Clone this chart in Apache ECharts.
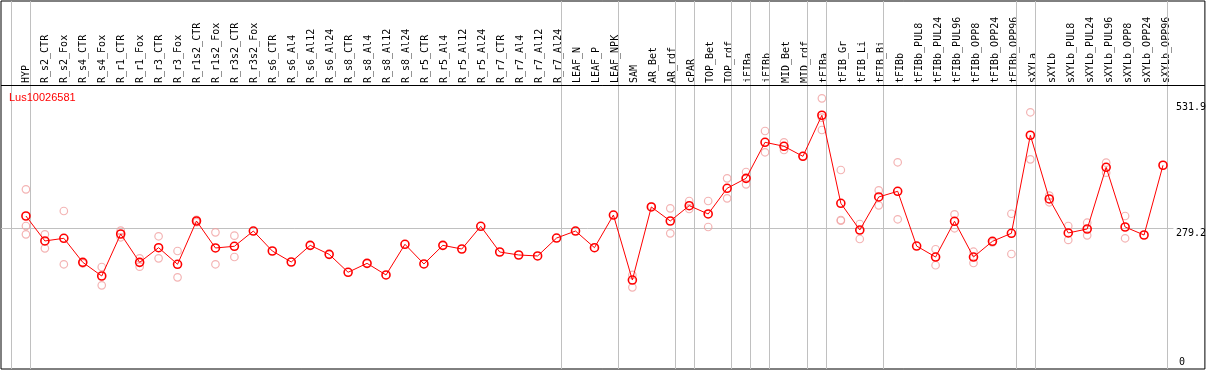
<!DOCTYPE html>
<html><head><meta charset="utf-8">
<script src="https://cdn.jsdelivr.net/npm/echarts@6/dist/echarts.min.js"></script>
<style>html,body{margin:0;padding:0;background:#fff}#c{width:1209px;height:370px}</style>
</head><body><div id="c"></div>
<script>
const chartTitle = 'Lus10026581';
const categories = ['HYP','R_s2_CTR','R_s2_Fox','R_s4_CTR','R_s4_Fox','R_r1_CTR','R_r1_Fox','R_r3_CTR','R_r3_Fox','R_r1s2_CTR','R_r1s2_Fox','R_r3s2_CTR','R_r3s2_Fox','R_s6_CTR','R_s6_Al4','R_s6_Al12','R_s6_Al24','R_s8_CTR','R_s8_Al4','R_s8_Al12','R_s8_Al24','R_r5_CTR','R_r5_Al4','R_r5_Al12','R_r5_Al24','R_r7_CTR','R_r7_Al4','R_r7_Al12','R_r7_Al24','LEAF_N','LEAF_P','LEAF_NPK','SAM','AR_Bet','AR_rdf','cPAR','TOP_Bet','TOP_rdf','iFIBa','iFIBb','MID_Bet','MID_rdf','tFIBa','tFIB_Gr','tFIB_Li','tFIB_Bi','tFIBb','tFIBb_PUL8','tFIBb_PUL24','tFIBb_PUL96','tFIBb_OPP8','tFIBb_OPP24','tFIBb_OPP96','sXYLa','sXYLb','sXYLb_PUL8','sXYLb_PUL24','sXYLb_PUL96','sXYLb_OPP8','sXYLb_OPP24','sXYLb_OPP96'];
const means = [304.0,253.8,259.2,210.8,183.3,267.8,210.8,240.3,206.9,294.0,239.7,243.1,273.8,233.6,211.5,
  245.0,226.9,190.8,208.8,185.4,247.1,207.5,245.0,237.6,283.3,231.6,225.6,223.6,259.7,273.8,240.3,
  306.0,175.2,322.2,294.0,324.8,308.1,359.8,379.8,452.3,444.3,424.1,506.7,329.6,275.8,342.3,353.7,
  243.6,221.5,293.4,221.5,253.1,269.2,466.5,338.3,269.9,277.9,402.0,281.9,265.8,406.1];
const repA = [357.7,267.2,314.1,208.6,201.4,274.5,218.9,263.2,233.6,296.4,271.2,264.4,null,null,null,
  null,null,null,null,null,null,null,null,null,null,null,null,null,null,null,null,
  null,185.4,323.4,319.5,334.2,334.2,379.8,392.6,475.0,452.3,424.7,540.8,396.6,287.9,355.7,412.1,
  null,237.1,307.5,232.2,251.1,308.6,512.7,344.9,283.9,290.5,411.3,304.0,null,null];
const repB = [283.9,239.0,206.9,null,164.6,261.2,202.1,218.9,180.6,291.6,206.9,221.5,null,null,null,
  null,null,null,null,null,null,null,null,null,null,null,null,null,null,null,null,
  null,160.5,null,269.2,318.1,281.9,339.6,367.8,432.2,436.8,null,477.1,296.0,257.8,325.5,297.4,
  null,204.9,279.3,209.5,null,227.6,418.1,331.6,255.8,265.2,391.1,259.2,null,null];
const repC = [267.2,null,null,null,null,null,null,null,null,null,null,null,null,null,null,
  null,null,null,null,null,null,null,null,null,null,null,null,null,null,null,null,
  null,null,null,null,null,null,null,null,null,null,null,501.9,294.5,null,null,null,
  null,null,null,null,null,null,null,null,null,null,null,null,null,null];
const yTickUpper = [279.2, 531.9];
const yTickZero = [0];
const refValue = 279.2;
const groupEnds = [-1, 0, 28, 31, 34, 35, 37, 38, 39, 41, 42, 45, 52, 53, 60];

const XMIN = -25/19, XMAX = 1182/19;
const YMIN = -3.8, YMAX = 736.6;
const HEADER_V = 566.6;
const MONO = 'DejaVu Sans Mono';

const repData = [];
[repA, repB, repC].forEach(arr => arr.forEach((v, i) => { if (v != null) repData.push([i, v]); }));
const meanData = means.map((v, i) => [i, v]);

const markData = groupEnds.map(g => ({ xAxis: g + 0.24, lineStyle: { color: '#c0c0c0', width: 1, type: 'solid' } }));
markData.push({ yAxis: HEADER_V, lineStyle: { color: '#000', width: 1, type: 'solid' } });
markData.push([{ coord: [XMIN, refValue], lineStyle: { color: '#c0c0c0', width: 1, type: 'solid' } }, { coord: [60.55, refValue] }]);

const labelBase = { margin: 0, fontFamily: MONO, fontSize: 10, color: '#000', formatter: v => String(v) };

const chart = echarts.init(document.getElementById('c'), null, { renderer: 'canvas' });
chart.setOption({
  animation: false,
  backgroundColor: '#fff',
  title: { text: chartTitle, left: 9, top: 92, padding: 0,
    textStyle: { color: '#f00', fontSize: 11, fontWeight: 'normal', fontFamily: 'Liberation Sans' } },
  grid: [
    { left: 1, right: 1, top: 1, bottom: 1, show: true, borderColor: '#000', borderWidth: 1, backgroundColor: 'transparent' },
    { left: 16.5, width: 1159, top: 1, height: 84, show: false }
  ],
  xAxis: [
    { type: 'value', gridIndex: 0, min: XMIN, max: XMAX, show: false },
    { type: 'category', gridIndex: 1, data: categories, boundaryGap: true, position: 'bottom',
      axisLine: { show: false }, axisTick: { show: false }, splitLine: { show: false },
      axisLabel: { inside: true, rotate: 90, interval: 0, margin: 2, fontFamily: MONO, fontSize: 10, color: '#000' } }
  ],
  yAxis: [
    { type: 'value', gridIndex: 0, min: YMIN, max: YMAX, position: 'right', offset: -29,
      axisLine: { show: false }, axisTick: { show: false }, splitLine: { show: false },
      axisLabel: Object.assign({ customValues: yTickUpper, verticalAlign: 'top', align: 'left' }, labelBase) },
    { type: 'value', gridIndex: 1, show: false },
    { type: 'value', gridIndex: 0, min: YMIN, max: YMAX, position: 'left', offset: -1178,
      axisLine: { show: false }, axisTick: { show: false }, splitLine: { show: false },
      axisLabel: Object.assign({ customValues: yTickZero, verticalAlign: 'bottom', align: 'left' }, labelBase) }
  ],
  series: [
    { type: 'scatter', xAxisIndex: 0, yAxisIndex: 0, data: repData, z: 2, silent: true,
      symbol: 'circle', symbolSize: 7.5,
      itemStyle: { color: 'rgba(0,0,0,0)', borderColor: '#f0a0a0', borderWidth: 1.2 },
      markLine: { silent: true, symbol: ['none', 'none'], label: { show: false }, data: markData, z: 1 } },
    { type: 'line', xAxisIndex: 0, yAxisIndex: 0, data: meanData, z: 3, silent: true,
      symbol: 'circle', symbolSize: 8, showAllSymbol: true,
      itemStyle: { color: 'rgba(0,0,0,0)', borderColor: '#f00', borderWidth: 1.6 },
      lineStyle: { color: '#f00', width: 1 } }
  ]
});
</script></body></html>
